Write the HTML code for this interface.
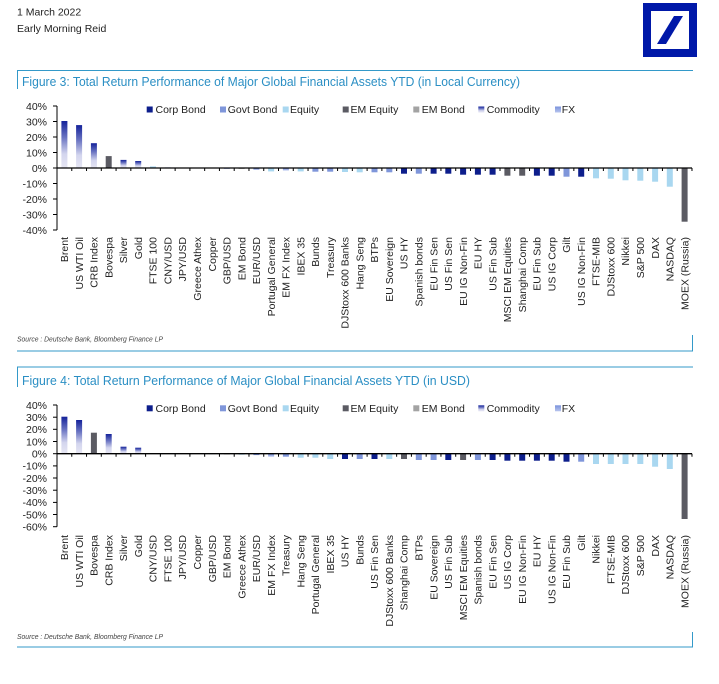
<!DOCTYPE html>
<html><head><meta charset="utf-8">
<style>
html,body{margin:0;padding:0;background:#fff;}
svg{display:block;}
text{font-family:"Liberation Sans",Arial,sans-serif;}
</style></head>
<body>
<svg width="719" height="684" viewBox="0 0 719 684" xmlns="http://www.w3.org/2000/svg">
<defs>
<linearGradient id="cg" x1="0" y1="0" x2="0" y2="1">
<stop offset="0" stop-color="#14229a"/>
<stop offset="0.35" stop-color="#6a74c2"/>
<stop offset="0.7" stop-color="#d3d5ee"/>
<stop offset="1" stop-color="#e6e6f3"/>
</linearGradient>
<linearGradient id="fg" x1="0" y1="0" x2="0" y2="1">
<stop offset="0" stop-color="#7a92dc"/>
<stop offset="1" stop-color="#b8c5ee"/>
</linearGradient>
</defs>
<rect width="719" height="684" fill="#fff"/>

<!-- header -->
<text x="17" y="15.5" font-size="10.5" fill="#222">1 March 2022</text>
<text x="17" y="32" font-size="10.5" fill="#222">Early Morning Reid</text>
<rect x="643" y="3" width="54" height="54" fill="#0018a8"/>
<rect x="651" y="11" width="38" height="38" fill="#fff"/>
<polygon points="657,44 666,44 683,16 674,16" fill="#0018a8"/>

<!-- ================= FIGURE 3 ================= -->
<line x1="17" y1="70.5" x2="693" y2="70.5" stroke="#3399c9" stroke-width="1"/>
<line x1="17.5" y1="70" x2="17.5" y2="89" stroke="#3399c9" stroke-width="1"/>
<text x="22" y="86" font-size="12.5" fill="#2b8fc4" textLength="498" lengthAdjust="spacingAndGlyphs">Figure 3: Total Return Performance of Major Global Financial Assets YTD (in Local Currency)</text>

<!-- legend -->
<g font-size="10.5" fill="#222">
<rect x="146.7" y="106.5" width="6" height="6" fill="#0d1e8c"/><text x="155.5" y="113">Corp Bond</text>
<rect x="220" y="106.5" width="6" height="6" fill="#7f96da"/><text x="227.7" y="113">Govt Bond</text>
<rect x="282.7" y="106.5" width="6" height="6" fill="#a9d7f0"/><text x="290" y="113">Equity</text>
<rect x="342.7" y="106.5" width="6" height="6" fill="#5b5b63"/><text x="350.5" y="113">EM Equity</text>
<rect x="413.3" y="106.5" width="6" height="6" fill="#a3a3a3"/><text x="421.7" y="113">EM Bond</text>
<rect x="478.3" y="106.5" width="6" height="6" fill="url(#cg)"/><text x="486.7" y="113">Commodity</text>
<rect x="555" y="106.5" width="6" height="6" fill="url(#fg)"/><text x="561.7" y="113">FX</text>
</g>

<!-- y axis -->
<g font-size="10.5" fill="#222" text-anchor="end">
<text x="47" y="109.8">40%</text>
<text x="47" y="125.3">30%</text>
<text x="47" y="140.8">20%</text>
<text x="47" y="156.3">10%</text>
<text x="47" y="171.8">0%</text>
<text x="47" y="187.3">-10%</text>
<text x="47" y="202.8">-20%</text>
<text x="47" y="218.3">-30%</text>
<text x="47" y="233.8">-40%</text>
</g>
<g stroke="#000" stroke-width="1">
<line x1="57" y1="106" x2="57" y2="230"/>
<line x1="53" y1="106" x2="57" y2="106"/>
<line x1="53" y1="121.5" x2="57" y2="121.5"/>
<line x1="53" y1="137" x2="57" y2="137"/>
<line x1="53" y1="152.5" x2="57" y2="152.5"/>
<line x1="53" y1="168" x2="57" y2="168"/>
<line x1="53" y1="183.5" x2="57" y2="183.5"/>
<line x1="53" y1="199" x2="57" y2="199"/>
<line x1="53" y1="214.5" x2="57" y2="214.5"/>
<line x1="53" y1="230" x2="57" y2="230"/>
</g>

<!-- bars fig 3 -->
<g>
<rect x="61.4" y="121" width="6" height="47" fill="url(#cg)"/>
<rect x="76.1" y="125.1" width="6" height="42.9" fill="url(#cg)"/>
<rect x="90.9" y="143.2" width="6" height="24.8" fill="url(#cg)"/>
<rect x="105.7" y="156.1" width="6" height="11.9" fill="#5b5b63"/>
<rect x="120.5" y="159.9" width="6" height="8.1" fill="url(#cg)"/>
<rect x="135.2" y="161" width="6" height="7" fill="url(#cg)"/>
<rect x="150" y="166.4" width="6" height="1.6" fill="#a9d7f0"/>
<rect x="164.8" y="167.4" width="6" height="0.6" fill="#7a92dc"/>
<rect x="209.1" y="167.6" width="6" height="0.4" fill="#14229a"/>
<rect x="194.3" y="168" width="6" height="0.3" fill="#a9d7f0"/>
<rect x="223.8" y="168" width="6" height="0.8" fill="#7a92dc"/>
<rect x="238.6" y="168" width="6" height="0.9" fill="#a3a3a3"/>
<rect x="253.4" y="168" width="6" height="1.6" fill="#7a92dc"/>
<rect x="268.1" y="168" width="6" height="3.4" fill="#a9d7f0"/>
<rect x="282.9" y="168" width="6" height="2.5" fill="url(#fg)"/>
<rect x="297.7" y="168" width="6" height="3.4" fill="#a9d7f0"/>
<rect x="312.4" y="168" width="6" height="3.7" fill="#7f96da"/>
<rect x="327.2" y="168" width="6" height="3.7" fill="#7f96da"/>
<rect x="342" y="168" width="6" height="4" fill="#a9d7f0"/>
<rect x="356.7" y="168" width="6" height="4.3" fill="#a9d7f0"/>
<rect x="371.5" y="168" width="6" height="4.3" fill="#7f96da"/>
<rect x="386.3" y="168" width="6" height="4.3" fill="#7f96da"/>
<rect x="401" y="168" width="6" height="5.7" fill="#0d1e8c"/>
<rect x="415.8" y="168" width="6" height="5.7" fill="#7f96da"/>
<rect x="430.6" y="168" width="6" height="5.7" fill="#0d1e8c"/>
<rect x="445.3" y="168" width="6" height="5.7" fill="#0d1e8c"/>
<rect x="460.1" y="168" width="6" height="6.7" fill="#0d1e8c"/>
<rect x="474.9" y="168" width="6" height="6.7" fill="#0d1e8c"/>
<rect x="489.6" y="168" width="6" height="6.7" fill="#0d1e8c"/>
<rect x="504.4" y="168" width="6" height="7.7" fill="#5b5b63"/>
<rect x="519.2" y="168" width="6" height="7.7" fill="#5b5b63"/>
<rect x="533.9" y="168" width="6" height="7.7" fill="#0d1e8c"/>
<rect x="548.7" y="168" width="6" height="7.7" fill="#0d1e8c"/>
<rect x="563.5" y="168" width="6" height="8.7" fill="#7f96da"/>
<rect x="578.2" y="168" width="6" height="8.7" fill="#0d1e8c"/>
<rect x="593" y="168" width="6" height="10.3" fill="#a9d7f0"/>
<rect x="607.8" y="168" width="6" height="10.7" fill="#a9d7f0"/>
<rect x="622.5" y="168" width="6" height="12.3" fill="#a9d7f0"/>
<rect x="637.3" y="168" width="6" height="12.7" fill="#a9d7f0"/>
<rect x="652.1" y="168" width="6" height="13.7" fill="#a9d7f0"/>
<rect x="666.8" y="168" width="6" height="18.7" fill="#a9d7f0"/>
<rect x="681.6" y="168" width="6" height="53.7" fill="#5b5b63"/>
</g>
<line x1="57" y1="168" x2="692" y2="168" stroke="#000" stroke-width="1.3"/>
<line x1="56.5" y1="169.5" x2="692.5" y2="169.5" stroke="#000" stroke-width="3" stroke-dasharray="1 13.767"/>

<!-- x labels fig 3 -->
<g font-size="10.5" fill="#222" text-anchor="end">
<text transform="translate(68.1,237) rotate(-90)">Brent</text>
<text transform="translate(82.9,237) rotate(-90)">US WTI Oil</text>
<text transform="translate(97.6,237) rotate(-90)">CRB Index</text>
<text transform="translate(112.4,237) rotate(-90)">Bovespa</text>
<text transform="translate(127.2,237) rotate(-90)">Silver</text>
<text transform="translate(141.9,237) rotate(-90)">Gold</text>
<text transform="translate(156.7,237) rotate(-90)">FTSE 100</text>
<text transform="translate(171.5,237) rotate(-90)">CNY/USD</text>
<text transform="translate(186.2,237) rotate(-90)">JPY/USD</text>
<text transform="translate(201,237) rotate(-90)">Greece Athex</text>
<text transform="translate(215.8,237) rotate(-90)">Copper</text>
<text transform="translate(230.5,237) rotate(-90)">GBP/USD</text>
<text transform="translate(245.3,237) rotate(-90)">EM Bond</text>
<text transform="translate(260.1,237) rotate(-90)">EUR/USD</text>
<text transform="translate(274.8,237) rotate(-90)">Portugal General</text>
<text transform="translate(289.6,237) rotate(-90)">EM FX Index</text>
<text transform="translate(304.4,237) rotate(-90)">IBEX 35</text>
<text transform="translate(319.1,237) rotate(-90)">Bunds</text>
<text transform="translate(333.9,237) rotate(-90)">Treasury</text>
<text transform="translate(348.7,237) rotate(-90)">DJStoxx 600 Banks</text>
<text transform="translate(363.4,237) rotate(-90)">Hang Seng</text>
<text transform="translate(378.2,237) rotate(-90)">BTPs</text>
<text transform="translate(393,237) rotate(-90)">EU Sovereign</text>
<text transform="translate(407.7,237) rotate(-90)">US HY</text>
<text transform="translate(422.5,237) rotate(-90)">Spanish bonds</text>
<text transform="translate(437.3,237) rotate(-90)">EU Fin Sen</text>
<text transform="translate(452,237) rotate(-90)">US Fin Sen</text>
<text transform="translate(466.8,237) rotate(-90)">EU IG Non-Fin</text>
<text transform="translate(481.6,237) rotate(-90)">EU HY</text>
<text transform="translate(496.3,237) rotate(-90)">US Fin Sub</text>
<text transform="translate(511.1,237) rotate(-90)">MSCI EM Equities</text>
<text transform="translate(525.9,237) rotate(-90)">Shanghai Comp</text>
<text transform="translate(540.6,237) rotate(-90)">EU Fin Sub</text>
<text transform="translate(555.4,237) rotate(-90)">US IG Corp</text>
<text transform="translate(570.2,237) rotate(-90)">Gilt</text>
<text transform="translate(584.9,237) rotate(-90)">US IG Non-Fin</text>
<text transform="translate(599.7,237) rotate(-90)">FTSE-MIB</text>
<text transform="translate(614.5,237) rotate(-90)">DJStoxx 600</text>
<text transform="translate(629.2,237) rotate(-90)">Nikkei</text>
<text transform="translate(644,237) rotate(-90)">S&amp;P 500</text>
<text transform="translate(658.8,237) rotate(-90)">DAX</text>
<text transform="translate(673.5,237) rotate(-90)">NASDAQ</text>
<text transform="translate(688.3,237) rotate(-90)">MOEX (Russia)</text>
</g>

<text x="17" y="341.5" font-size="7" font-style="italic" fill="#444" textLength="146" lengthAdjust="spacingAndGlyphs">Source : Deutsche Bank, Bloomberg Finance LP</text>
<line x1="17" y1="351" x2="693" y2="351" stroke="#3399c9" stroke-width="1"/>
<line x1="692.5" y1="335" x2="692.5" y2="351" stroke="#3399c9" stroke-width="1"/>

<!-- ================= FIGURE 4 ================= -->
<line x1="17" y1="367" x2="693" y2="367" stroke="#3399c9" stroke-width="1"/>
<line x1="17.5" y1="367" x2="17.5" y2="387" stroke="#3399c9" stroke-width="1"/>
<text x="22" y="385" font-size="12.5" fill="#2b8fc4" textLength="448" lengthAdjust="spacingAndGlyphs">Figure 4: Total Return Performance of Major Global Financial Assets YTD (in USD)</text>

<g font-size="10.5" fill="#222">
<rect x="146.7" y="405.3" width="6" height="6" fill="#0d1e8c"/><text x="155.5" y="412">Corp Bond</text>
<rect x="220" y="405.3" width="6" height="6" fill="#7f96da"/><text x="227.7" y="412">Govt Bond</text>
<rect x="282.7" y="405.3" width="6" height="6" fill="#a9d7f0"/><text x="290" y="412">Equity</text>
<rect x="342.7" y="405.3" width="6" height="6" fill="#5b5b63"/><text x="350.5" y="412">EM Equity</text>
<rect x="413.3" y="405.3" width="6" height="6" fill="#a3a3a3"/><text x="421.7" y="412">EM Bond</text>
<rect x="478.3" y="405.3" width="6" height="6" fill="url(#cg)"/><text x="486.7" y="412">Commodity</text>
<rect x="555" y="405.3" width="6" height="6" fill="url(#fg)"/><text x="561.7" y="412">FX</text>
</g>

<g font-size="10.5" fill="#222" text-anchor="end">
<text x="47" y="408.8">40%</text>
<text x="47" y="421">30%</text>
<text x="47" y="433.1">20%</text>
<text x="47" y="445.3">10%</text>
<text x="47" y="457.5">0%</text>
<text x="47" y="469.7">-10%</text>
<text x="47" y="481.8">-20%</text>
<text x="47" y="494">-30%</text>
<text x="47" y="506.2">-40%</text>
<text x="47" y="518.3">-50%</text>
<text x="47" y="530.5">-60%</text>
</g>
<g stroke="#000" stroke-width="1">
<line x1="57" y1="405" x2="57" y2="526.7"/>
<line x1="53" y1="405" x2="57" y2="405"/>
<line x1="53" y1="417.2" x2="57" y2="417.2"/>
<line x1="53" y1="429.3" x2="57" y2="429.3"/>
<line x1="53" y1="441.5" x2="57" y2="441.5"/>
<line x1="53" y1="453.7" x2="57" y2="453.7"/>
<line x1="53" y1="465.9" x2="57" y2="465.9"/>
<line x1="53" y1="478" x2="57" y2="478"/>
<line x1="53" y1="490.2" x2="57" y2="490.2"/>
<line x1="53" y1="502.4" x2="57" y2="502.4"/>
<line x1="53" y1="514.5" x2="57" y2="514.5"/>
<line x1="53" y1="526.7" x2="57" y2="526.7"/>
</g>

<g>
<rect x="61.4" y="416.7" width="6" height="37" fill="url(#cg)"/>
<rect x="76.1" y="420" width="6" height="33.7" fill="url(#cg)"/>
<rect x="90.9" y="432.7" width="6" height="21" fill="#5b5b63"/>
<rect x="105.7" y="434" width="6" height="19.7" fill="url(#cg)"/>
<rect x="120.5" y="446.7" width="6" height="7" fill="url(#cg)"/>
<rect x="135.2" y="447.7" width="6" height="6" fill="url(#cg)"/>
<rect x="150" y="453.1" width="6" height="0.6" fill="#7a92dc"/>
<rect x="164.8" y="453.3" width="6" height="0.4" fill="#a9d7f0"/>
<rect x="194.3" y="453.1" width="6" height="0.6" fill="#14229a"/>
<rect x="209.1" y="453.7" width="6" height="0.4" fill="#7a92dc"/>
<rect x="223.8" y="453.7" width="6" height="0.8" fill="#a3a3a3"/>
<rect x="238.6" y="453.7" width="6" height="1" fill="#a9d7f0"/>
<rect x="253.4" y="453.7" width="6" height="1.4" fill="#7a92dc"/>
<rect x="268.1" y="453.7" width="6" height="3" fill="url(#fg)"/>
<rect x="282.9" y="453.7" width="6" height="3" fill="#7f96da"/>
<rect x="297.7" y="453.7" width="6" height="4" fill="#a9d7f0"/>
<rect x="312.4" y="453.7" width="6" height="4" fill="#a9d7f0"/>
<rect x="327.2" y="453.7" width="6" height="5.3" fill="#a9d7f0"/>
<rect x="342" y="453.7" width="6" height="5.3" fill="#0d1e8c"/>
<rect x="356.7" y="453.7" width="6" height="5.3" fill="#7f96da"/>
<rect x="371.5" y="453.7" width="6" height="5.3" fill="#0d1e8c"/>
<rect x="386.3" y="453.7" width="6" height="5.3" fill="#a9d7f0"/>
<rect x="401" y="453.7" width="6" height="5.3" fill="#5b5b63"/>
<rect x="415.8" y="453.7" width="6" height="6.3" fill="#7f96da"/>
<rect x="430.6" y="453.7" width="6" height="6.3" fill="#7f96da"/>
<rect x="445.3" y="453.7" width="6" height="6.3" fill="#0d1e8c"/>
<rect x="460.1" y="453.7" width="6" height="6.3" fill="#5b5b63"/>
<rect x="474.9" y="453.7" width="6" height="6.3" fill="#7f96da"/>
<rect x="489.6" y="453.7" width="6" height="6.3" fill="#0d1e8c"/>
<rect x="504.4" y="453.7" width="6" height="7" fill="#0d1e8c"/>
<rect x="519.2" y="453.7" width="6" height="7" fill="#0d1e8c"/>
<rect x="533.9" y="453.7" width="6" height="7" fill="#0d1e8c"/>
<rect x="548.7" y="453.7" width="6" height="7" fill="#0d1e8c"/>
<rect x="563.5" y="453.7" width="6" height="8" fill="#0d1e8c"/>
<rect x="578.2" y="453.7" width="6" height="8" fill="#7f96da"/>
<rect x="593" y="453.7" width="6" height="10.3" fill="#a9d7f0"/>
<rect x="607.8" y="453.7" width="6" height="10.3" fill="#a9d7f0"/>
<rect x="622.5" y="453.7" width="6" height="10.3" fill="#a9d7f0"/>
<rect x="637.3" y="453.7" width="6" height="10.3" fill="#a9d7f0"/>
<rect x="652.1" y="453.7" width="6" height="13" fill="#a9d7f0"/>
<rect x="666.8" y="453.7" width="6" height="15.3" fill="#a9d7f0"/>
<rect x="681.6" y="453.7" width="6" height="65.3" fill="#5b5b63"/>
</g>
<line x1="57" y1="453.7" x2="692" y2="453.7" stroke="#000" stroke-width="1.3"/>
<line x1="56.5" y1="455.2" x2="692.5" y2="455.2" stroke="#000" stroke-width="3" stroke-dasharray="1 13.767"/>

<g font-size="10.5" fill="#222" text-anchor="end">
<text transform="translate(68.1,535) rotate(-90)">Brent</text>
<text transform="translate(82.9,535) rotate(-90)">US WTI Oil</text>
<text transform="translate(97.6,535) rotate(-90)">Bovespa</text>
<text transform="translate(112.4,535) rotate(-90)">CRB Index</text>
<text transform="translate(127.2,535) rotate(-90)">Silver</text>
<text transform="translate(141.9,535) rotate(-90)">Gold</text>
<text transform="translate(156.7,535) rotate(-90)">CNY/USD</text>
<text transform="translate(171.5,535) rotate(-90)">FTSE 100</text>
<text transform="translate(186.2,535) rotate(-90)">JPY/USD</text>
<text transform="translate(201,535) rotate(-90)">Copper</text>
<text transform="translate(215.8,535) rotate(-90)">GBP/USD</text>
<text transform="translate(230.5,535) rotate(-90)">EM Bond</text>
<text transform="translate(245.3,535) rotate(-90)">Greece Athex</text>
<text transform="translate(260.1,535) rotate(-90)">EUR/USD</text>
<text transform="translate(274.8,535) rotate(-90)">EM FX Index</text>
<text transform="translate(289.6,535) rotate(-90)">Treasury</text>
<text transform="translate(304.4,535) rotate(-90)">Hang Seng</text>
<text transform="translate(319.1,535) rotate(-90)">Portugal General</text>
<text transform="translate(333.9,535) rotate(-90)">IBEX 35</text>
<text transform="translate(348.7,535) rotate(-90)">US HY</text>
<text transform="translate(363.4,535) rotate(-90)">Bunds</text>
<text transform="translate(378.2,535) rotate(-90)">US Fin Sen</text>
<text transform="translate(393,535) rotate(-90)">DJStoxx 600 Banks</text>
<text transform="translate(407.7,535) rotate(-90)">Shanghai Comp</text>
<text transform="translate(422.5,535) rotate(-90)">BTPs</text>
<text transform="translate(437.3,535) rotate(-90)">EU Sovereign</text>
<text transform="translate(452,535) rotate(-90)">US Fin Sub</text>
<text transform="translate(466.8,535) rotate(-90)">MSCI EM Equities</text>
<text transform="translate(481.6,535) rotate(-90)">Spanish bonds</text>
<text transform="translate(496.3,535) rotate(-90)">EU Fin Sen</text>
<text transform="translate(511.1,535) rotate(-90)">US IG Corp</text>
<text transform="translate(525.9,535) rotate(-90)">EU IG Non-Fin</text>
<text transform="translate(540.6,535) rotate(-90)">EU HY</text>
<text transform="translate(555.4,535) rotate(-90)">US IG Non-Fin</text>
<text transform="translate(570.2,535) rotate(-90)">EU Fin Sub</text>
<text transform="translate(584.9,535) rotate(-90)">Gilt</text>
<text transform="translate(599.7,535) rotate(-90)">Nikkei</text>
<text transform="translate(614.5,535) rotate(-90)">FTSE-MIB</text>
<text transform="translate(629.2,535) rotate(-90)">DJStoxx 600</text>
<text transform="translate(644,535) rotate(-90)">S&amp;P 500</text>
<text transform="translate(658.8,535) rotate(-90)">DAX</text>
<text transform="translate(673.5,535) rotate(-90)">NASDAQ</text>
<text transform="translate(688.3,535) rotate(-90)">MOEX (Russia)</text>
</g>

<text x="17" y="639" font-size="7" font-style="italic" fill="#444" textLength="146" lengthAdjust="spacingAndGlyphs">Source : Deutsche Bank, Bloomberg Finance LP</text>
<line x1="17" y1="647" x2="693" y2="647" stroke="#3399c9" stroke-width="1"/>
<line x1="692.5" y1="632" x2="692.5" y2="647" stroke="#3399c9" stroke-width="1"/>
</svg>
</body></html>
